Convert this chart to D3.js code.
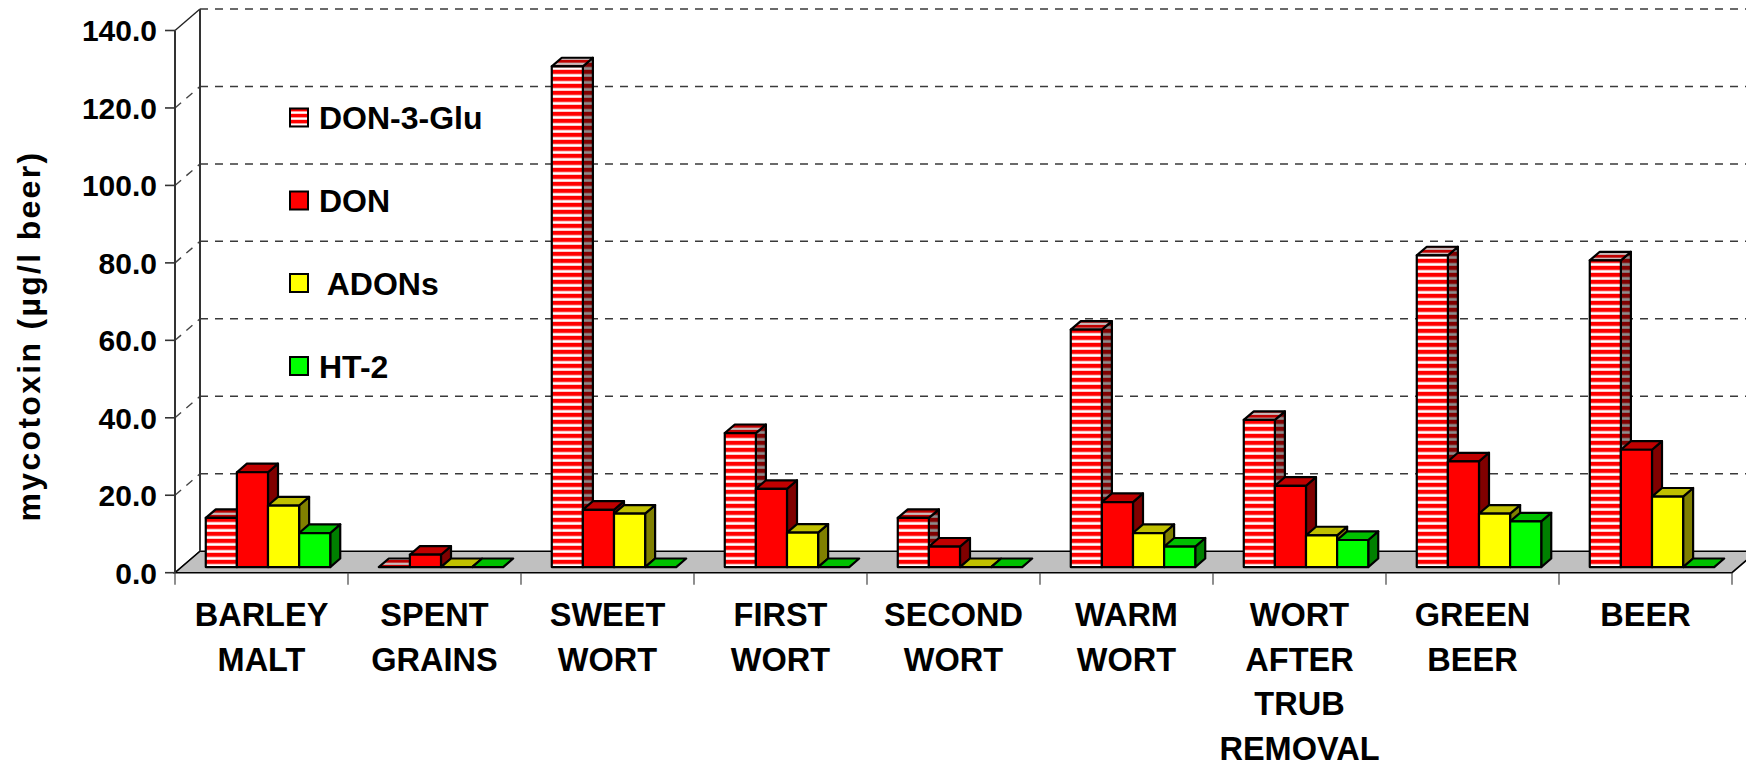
<!DOCTYPE html>
<html>
<head>
<meta charset="utf-8">
<script src="https://cdn.jsdelivr.net/npm/d3@7"></script>
<style>
  html, body { margin: 0; padding: 0; background: #fff; }
  svg { display: block; font-family: "Liberation Sans", Arial, sans-serif; font-weight: bold; }
</style>
</head>
<body>
<svg id="chart" width="1746" height="768"></svg>
<script>
// Brewing stages (x axis) and mycotoxin series
const categories = ["BARLEY MALT", "SPENT GRAINS", "SWEET WORT", "FIRST WORT", "SECOND WORT",
                    "WARM WORT", "WORT AFTER TRUB REMOVAL", "GREEN BEER", "BEER"];
const seriesNames = ["DON-3-Glu", "DON", "ADONs", "HT-2"];
const legendLabels = ["DON-3-Glu", "DON", " ADONs", "HT-2"];

// µg/l beer
const don3Glu = [12.7, 0, 129.3, 34.6, 12.7, 61.3, 38.0, 80.5, 79.2];
const don     = [24.5, 3.2, 14.8, 20.2, 5.3, 16.8, 21.0, 27.3, 30.3];
const adons   = [15.9, 0, 13.8, 8.9, 0, 8.8, 8.2, 13.8, 18.2];
const ht2     = [8.8, 0, 0, 0, 0, 5.3, 7.0, 11.8, 0];
const seriesValues = [don3Glu, don, adons, ht2];

const yTicks = [0, 20, 40, 60, 80, 100, 120, 140];

const svg = d3.select("#chart");

// ---- layout ----
const left = 175, right = 1732, base = 572.7, topY = 30.5;
const depth = { x: 25, y: -21.5 };          // floor / wall depth
const barFront = 0.26, barDepth = 0.4;      // bar placement inside the depth

const x0 = d3.scaleBand().domain(categories).range([left, right]).padding(0);
const x1 = d3.scaleBand().domain(seriesNames).range([0, x0.bandwidth()])
  .paddingInner(0).paddingOuter(0.78);
const y = d3.scaleLinear().domain([0, 140]).range([base, topY]);

// ---- patterns ----
const defs = svg.append("defs");
function stripes(id, c1, c2, period) {
  const p = defs.append("pattern").attr("id", id)
    .attr("patternUnits", "userSpaceOnUse").attr("width", 8).attr("height", period);
  p.append("rect").attr("width", 8).attr("height", period).attr("fill", c2);
  p.append("rect").attr("y", 0).attr("width", 8).attr("height", period * 0.55).attr("fill", c1);
  p.append("rect").attr("y", period * 0.55).attr("width", 8).attr("height", period * 0.08).attr("fill", d3.interpolateRgb(c1, c2)(0.5));
  p.append("rect").attr("y", period * 0.94).attr("width", 8).attr("height", period * 0.06).attr("fill", d3.interpolateRgb(c1, c2)(0.5));
}
stripes("glu-front", "#ff0000", "#ffffff", 7);
stripes("glu-side", "#800000", "#8c8c8c", 7);
stripes("glu-top", "#c00000", "#c8c8c8", 5);
stripes("glu-legend", "#ff0000", "#ffffff", 6);

const faces = {
  "DON-3-Glu": { front: "url(#glu-front)", top: "url(#glu-top)", side: "url(#glu-side)", legend: "url(#glu-legend)" },
  "DON":       { front: "#ff0000", top: "#c00000", side: "#800000", legend: "#ff0000" },
  "ADONs":     { front: "#ffff00", top: "#c0c000", side: "#808000", legend: "#ffff00" },
  "HT-2":      { front: "#00ff00", top: "#00c000", side: "#008000", legend: "#00ff00" }
};

const pts = a => a.map(p => p.join(",")).join(" ");

// ---- left wall gridlines + back wall gridlines ----
const grid = svg.append("g");
yTicks.forEach(v => {
  const yy = y(v);
  grid.append("line")
    .attr("x1", left).attr("y1", yy).attr("x2", left + depth.x).attr("y2", yy + depth.y)
    .attr("stroke", v === 0 || v === 140 ? "#222" : "#444")
    .attr("stroke-width", 1.4)
    .attr("stroke-dasharray", v === 0 || v === 140 ? null : "8,7");
  if (v > 0) {
    grid.append("line")
      .attr("x1", left + depth.x).attr("y1", yy + depth.y).attr("x2", 1760).attr("y2", yy + depth.y)
      .attr("stroke", "#3a3a3a").attr("stroke-width", 1.5).attr("stroke-dasharray", "8,7");
  }
});

// ---- floor ----
svg.append("polygon")
  .attr("points", pts([[left, base], [right, base], [right + depth.x, base + depth.y], [left + depth.x, base + depth.y]]))
  .attr("fill", "#c0c0c0").attr("stroke", "#000").attr("stroke-width", 1.6);

// wall edges
svg.append("line").attr("x1", left + depth.x).attr("y1", y(140) + depth.y)
  .attr("x2", left + depth.x).attr("y2", base + depth.y)
  .attr("stroke", "#333").attr("stroke-width", 2);
svg.append("line").attr("x1", left).attr("y1", y(140))
  .attr("x2", left).attr("y2", base)
  .attr("stroke", "#333").attr("stroke-width", 2);

// ---- y axis ticks & labels ----
const yAxis = svg.append("g");
yTicks.forEach(v => {
  yAxis.append("line").attr("x1", left - 10).attr("x2", left).attr("y1", y(v)).attr("y2", y(v))
    .attr("stroke", "#333").attr("stroke-width", 1.6);
  yAxis.append("text").attr("x", 157).attr("y", y(v)).attr("dy", "0.36em")
    .attr("text-anchor", "end").attr("font-size", 30).text(v.toFixed(1));
});

svg.append("text")
  .attr("transform", "translate(40,336) rotate(-90)")
  .attr("text-anchor", "middle").attr("font-size", 32).attr("letter-spacing", 2.3)
  .text("mycotoxin (µg/l beer)");

// ---- category ticks & labels ----
const xAxis = svg.append("g");
categories.forEach((c, i) => {
  xAxis.append("line").attr("x1", x0(c)).attr("x2", x0(c)).attr("y1", base).attr("y2", base + 12)
    .attr("stroke", "#444").attr("stroke-width", 1.2);
  const t = xAxis.append("text").attr("x", x0(c) + x0.bandwidth() / 2).attr("y", 626)
    .attr("text-anchor", "middle").attr("font-size", 32.5);
  c.split(" ").forEach((w, k) => {
    t.append("tspan").attr("x", x0(c) + x0.bandwidth() / 2).attr("dy", k === 0 ? 0 : 44.5).text(w);
  });
});
xAxis.append("line").attr("x1", right).attr("x2", right).attr("y1", base).attr("y2", base + 12)
  .attr("stroke", "#444").attr("stroke-width", 1.2);

// ---- 3D bars ----
const bdx = depth.x * barDepth, bdy = depth.y * barDepth;
const offX = depth.x * barFront, offY = depth.y * barFront;
const bars = svg.append("g")
  .attr("stroke", "#000").attr("stroke-width", 2.2).attr("stroke-linejoin", "round");

categories.forEach((c, i) => {
  seriesNames.forEach((s, j) => {
    const v = seriesValues[j][i];
    const xl = x0(c) + x1(s) + offX, w = x1.bandwidth();
    const yb = y(0) + offY, yt = y(v) + offY;
    const f = faces[s];
    const g = bars.append("g");
    if (v > 0) {
      g.append("polygon").attr("fill", f.side)
        .attr("points", pts([[xl + w, yt], [xl + w + bdx, yt + bdy], [xl + w + bdx, yb + bdy], [xl + w, yb]]));
    }
    g.append("polygon").attr("fill", f.top)
      .attr("points", pts([[xl, yt], [xl + bdx, yt + bdy], [xl + w + bdx, yt + bdy], [xl + w, yt]]));
    if (v > 0) {
      g.append("rect").attr("fill", f.front)
        .attr("x", xl).attr("y", yt).attr("width", w).attr("height", yb - yt);
    }
  });
});

// ---- legend ----
const legend = svg.append("g");
const legendY = [117.5, 200.5, 283, 366];
seriesNames.forEach((s, j) => {
  legend.append("rect").attr("x", 290).attr("y", legendY[j] - 9).attr("width", 18).attr("height", 18)
    .attr("fill", faces[s].legend).attr("stroke", "#000").attr("stroke-width", 2);
  legend.append("text").attr("x", 319).attr("y", legendY[j]).attr("dy", "0.36em")
    .attr("font-size", 32).style("white-space", "pre").text(legendLabels[j]);
});
</script>
</body>
</html>
